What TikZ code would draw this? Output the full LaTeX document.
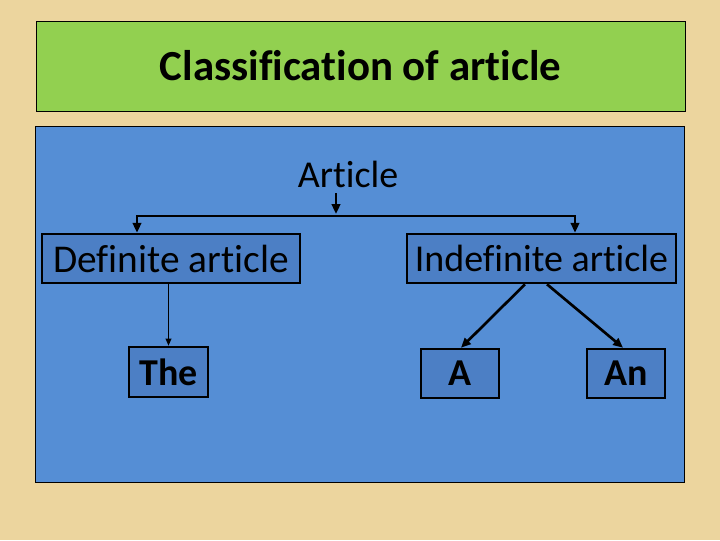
\documentclass[tikz,border=0pt]{standalone}
\usepackage{fontspec}
\setmainfont{Carlito}[Ligatures=NoCommon]
\usetikzlibrary{positioning, arrows.meta}

\definecolor{paper}{RGB}{236,213,158}
\definecolor{titlegreen}{RGB}{146,208,80}
\definecolor{panelblue}{RGB}{85,142,213}
\definecolor{boxblue}{RGB}{76,127,197}

\begin{document}
\begin{tikzpicture}[
		x=0.025cm, y=-0.025cm,
		heading/.style={font=\fontsize{30.5}{36}\selectfont\bfseries},
		plain/.style={font=\fontsize{27}{32}\selectfont},
		kind/.style={draw=black, line width=1.8pt, fill=boxblue, inner sep=0pt,
			minimum height=1.225cm, font=\fontsize{27}{32}\selectfont},
		word/.style={kind, font=\fontsize{27}{32}\selectfont\bfseries},
		link/.style={line width=1.9pt, -{Triangle[length=7pt, width=6pt]}},
		thinlink/.style={line width=1pt, -{Triangle[length=5pt, width=4pt]}}
		]
		
		% --- Page and panels ---
		\fill[paper] (0,0) rectangle (720,540);
		\node[draw=black, thin, fill=titlegreen, minimum width=16.225cm,
			minimum height=2.25cm, heading] (title) at (360.5,66) {Classification of article};
		\draw[black, thin, fill=panelblue] (35,126) rectangle (684,482);
		
		% --- Top of the tree ---
		\node[plain, inner sep=0pt] (article) at (348,174) {Article};
		\node[kind, minimum width=6.45cm, font=\fontsize{28}{33}\selectfont] (definite) at (171,258.5) {Definite article};
		\node[kind, minimum width=6.725cm] (indefinite) at (541.5,258.5) {Indefinite article};
		
		% --- Leaves ---
		\node[word, minimum width=1.975cm, minimum height=1.25cm] (the) at (168.5,372) {The};
		\node[word, minimum width=1.95cm] (a) at (460,373.5) {A};
		\node[word, minimum width=1.95cm] (an) at (626,373.5) {An};
		
		% split points
		\coordinate (drop) at (336,193);
		\coordinate (split) at (336,214);
		\coordinate (leftend) at (137,216);
		\coordinate (rightend) at (575,216);
		
		% --- Connectors ---
		\draw[link] (drop) -- (split);
		\draw[line width=2.1pt, {Triangle[length=7pt, width=6pt]}-{Triangle[length=7pt, width=6pt]}]
			(definite.north -| leftend) -- (leftend) -- (rightend) -- (indefinite.north -| rightend);
		\draw[thinlink] (definite.south -| the.north) -- (the.north);
		\draw[link] ([xshift=-0.4125cm]indefinite.south) -- ([xshift=0.025cm]a.north);
		\draw[link] ([xshift=0.1375cm]indefinite.south) -- ([xshift=-0.075cm]an.north);
		
	\end{tikzpicture}
\end{document}
